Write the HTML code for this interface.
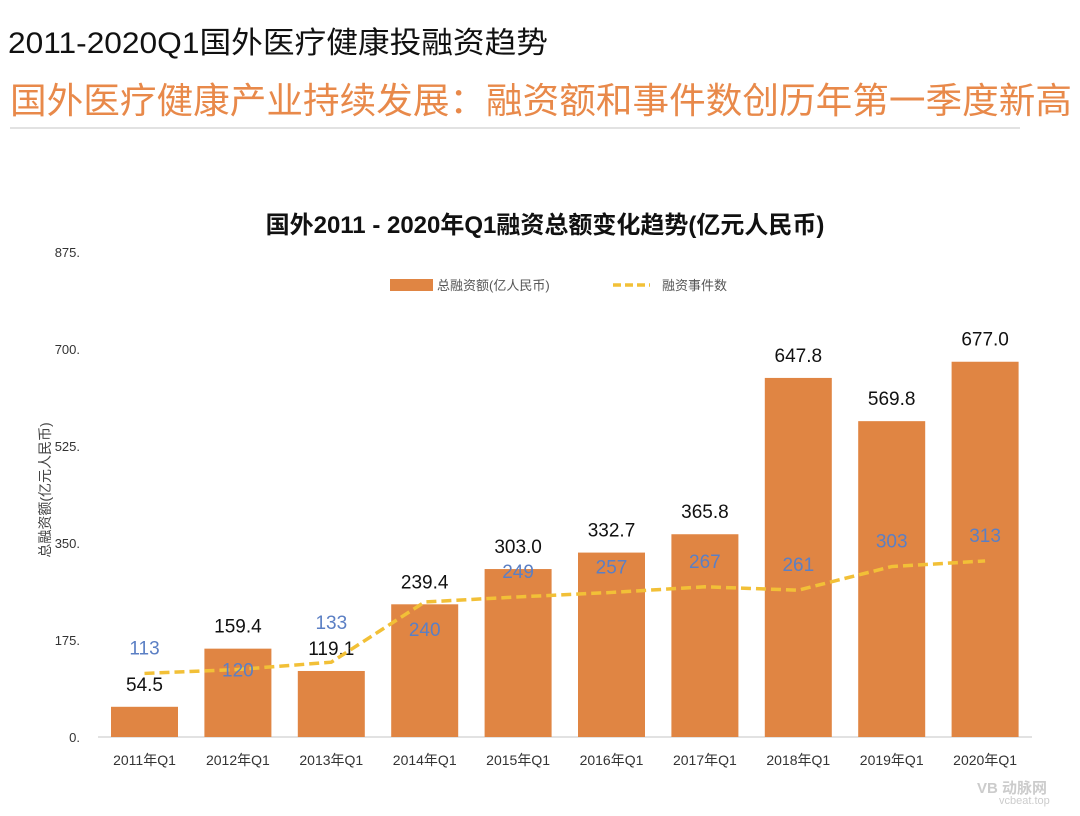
<!DOCTYPE html>
<html><head><meta charset="utf-8">
<style>
body{margin:0;width:1080px;height:816px;background:#fff;overflow:hidden;font-family:"Liberation Sans","Noto Sans CJK SC",sans-serif;position:relative}
.t1{position:absolute;left:8px;top:18px;font-size:30px;color:#111;white-space:nowrap;transform-origin:0 0}
.t2{position:absolute;left:10px;top:72px;font-size:36px;color:#e8894a;white-space:nowrap;transform-origin:0 0}
.rule{position:absolute;left:10px;top:127px;width:1010px;height:2px;background:#e2e2e2}
svg{position:absolute;left:0;top:0}
</style></head><body>
<div class="t1" id="t1">2011-2020Q1国外医疗健康投融资趋势</div>
<div class="t2" id="t2">国外医疗健康产业持续发展：融资额和事件数创历年第一季度新高</div>
<div class="rule"></div>
<svg id="chart" width="1080" height="816" font-family="Liberation Sans, Noto Sans CJK SC, sans-serif">
<text x="545" y="233" text-anchor="middle" font-size="24" font-weight="bold" fill="#111">国外2011 - 2020年Q1融资总额变化趋势(亿元人民币)</text>
<g>
<rect x="390" y="279" width="43" height="12" fill="#e08543"/>
<text x="437" y="290" font-size="13" fill="#555">总融资额(亿人民币)</text>
<line x1="613" y1="285" x2="650" y2="285" stroke="#f2c037" stroke-width="3.5" stroke-dasharray="8,4"/>
<text x="662" y="290" font-size="13" fill="#555">融资事件数</text>
</g>
<text transform="translate(50,490) rotate(-90)" text-anchor="middle" font-size="14" fill="#444">总融资额(亿元人民币)</text>
<line x1="98" y1="737" x2="1032" y2="737" stroke="#d9d9d9" stroke-width="1.5"/>
<g id="g"></g>
</svg>
<div style="position:absolute;left:977px;top:777px;font-size:15px;color:#ccc;font-weight:bold">VB 动脉网<div style="font-size:11px;font-weight:normal;margin-left:22px;margin-top:-3px">vcbeat.top</div></div>
<script>
const categories=["2011年Q1","2012年Q1","2013年Q1","2014年Q1","2015年Q1","2016年Q1","2017年Q1","2018年Q1","2019年Q1","2020年Q1"];
const amounts=[54.5,159.4,119.1,239.4,303.0,332.7,365.8,647.8,569.8,677.0];
const events=[113,120,133,240,249,257,267,261,303,313];
const yTicks=[0,175,350,525,700,875];
function fit(id,w){const e=document.getElementById(id);const s=w/e.getBoundingClientRect().width;e.style.transform='scaleX('+s+')';}
fit('t1',540);fit('t2',1062);
const NS="http://www.w3.org/2000/svg";
const g=document.getElementById('g');
const base=737;
const yA=v=>base-v*0.5543;
const yE=v=>base-v*0.5625;
const xC=i=>144.5+i*93.4;
function mk(t,a){const e=document.createElementNS(NS,t);for(const k in a)e.setAttribute(k,a[k]);g.appendChild(e);return e;}
yTicks.forEach(v=>{const t=mk('text',{x:80,y:yA(v)+5,'text-anchor':'end','font-size':13,fill:'#333'});t.textContent=v+'.';

});
amounts.forEach((v,i)=>{const r=mk('rect',{x:xC(i)-33.5,y:yA(v),width:67,height:base-yA(v),fill:'#e08543'});


const l=mk('text',{x:xC(i),y:yA(v)-16,'text-anchor':'middle','font-size':19,fill:'#111'});l.textContent=v.toFixed(1);


const c=mk('text',{x:xC(i),y:765,'text-anchor':'middle','font-size':14,fill:'#333'});c.textContent=categories[i];

});
const pts=events.map((v,i)=>xC(i)+','+yE(v)).join(' ');
const pl=mk('polyline',{points:pts,fill:'none',stroke:'#f2c037','stroke-width':3.5,'stroke-dasharray':'10,5'});


events.forEach((v,i)=>{const off=i===1?7:(i===3?34:(i===2?-33:-19));
const t=mk('text',{x:xC(i),y:yE(v)+off,'text-anchor':'middle','font-size':19,fill:'#5b7fc4'});t.textContent=v;

});
</script>
</body></html>
